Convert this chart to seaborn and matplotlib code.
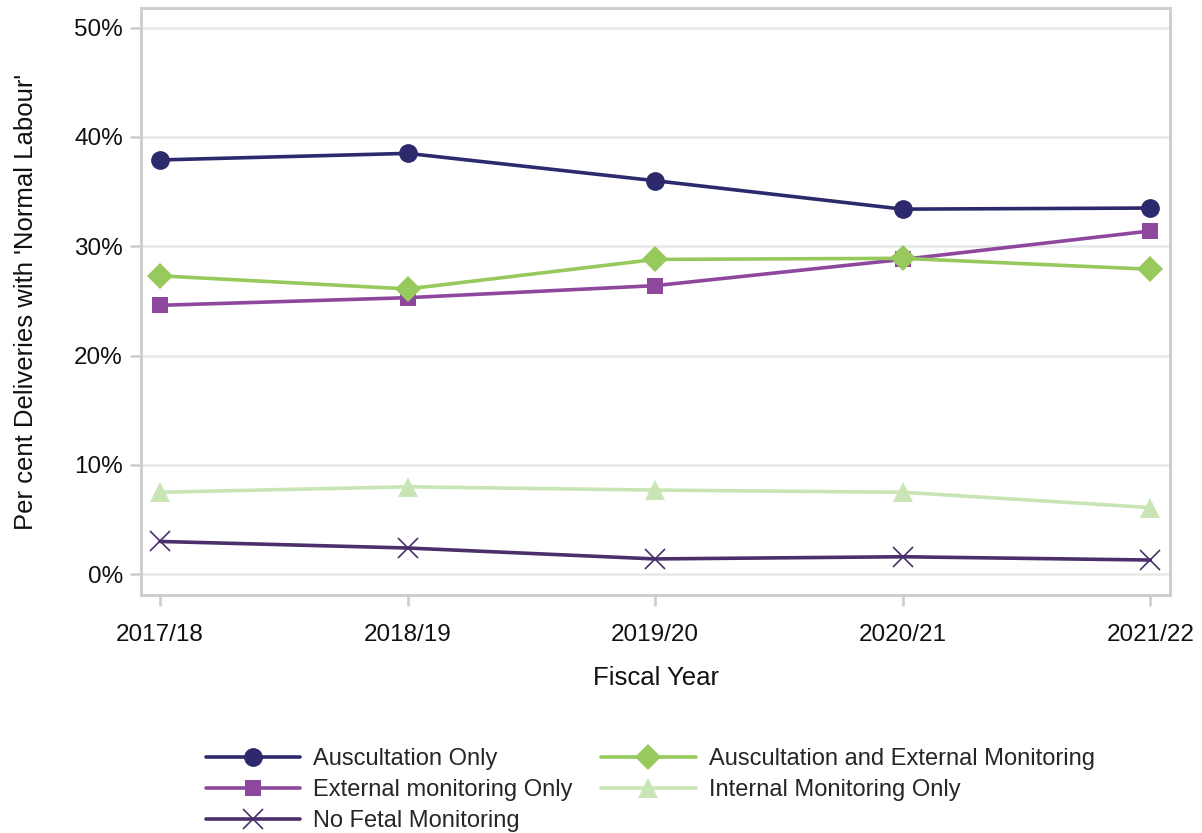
import matplotlib
matplotlib.use("Agg")
import matplotlib.pyplot as plt
import seaborn as sns
import pandas as pd
from matplotlib.ticker import FuncFormatter

years = ["2017/18", "2018/19", "2019/20", "2020/21", "2021/22"]
auscultation_only = [37.9, 38.5, 36.0, 33.4, 33.5]
external_only = [24.6, 25.3, 26.4, 28.8, 31.4]
ausc_and_external = [27.3, 26.1, 28.8, 28.9, 27.9]
internal_only = [7.5, 8.0, 7.7, 7.5, 6.1]
no_fetal = [3.0, 2.4, 1.4, 1.6, 1.3]

series_names = ["Auscultation Only", "External monitoring Only", "No Fetal Monitoring",
                "Auscultation and External Monitoring", "Internal Monitoring Only"]
series_vals = [auscultation_only, external_only, no_fetal, ausc_and_external, internal_only]
colors = ["#2C2A6C", "#8D489E", "#4A2F6B", "#97C95D", "#CAE5B5"]
markers = ["o", "s", "x", "D", "^"]
msizes = [13.5, 12, 15, 13, 14]

rows = []
for name, vals in zip(series_names, series_vals):
    for y, v in zip(years, vals):
        rows.append({"Fiscal Year": y, "value": v, "series": name})
df = pd.DataFrame(rows)

sns.set_theme(style="white")
plt.rcParams['font.family'] = ['Liberation Sans', 'DejaVu Sans']

fig = plt.figure(figsize=(12.02, 8.33), dpi=100)
ax = fig.add_axes([0.1173, 0.2857, 0.9734 - 0.1173, 0.9904 - 0.2857])

draw_order = [4, 3, 1, 2, 0]
for i in draw_order:
    sub = df[df["series"] == series_names[i]]
    sns.lineplot(data=sub, x="Fiscal Year", y="value", ax=ax, color=colors[i],
                 marker=markers[i], markersize=msizes[i], linewidth=2.6,
                 markeredgecolor=colors[i], markeredgewidth=1.2 if markers[i] == "x" else 0,
                 label=series_names[i], sort=False, zorder=3 + i)

ax.set_xlim(-0.077, 4.08)
ax.set_ylim(-1.9, 51.8)
ax.set_yticks([0, 10, 20, 30, 40, 50])
ax.yaxis.set_major_formatter(FuncFormatter(lambda v, p: f"{int(v)}%"))
ax.grid(axis="y", color="#E8E8E8", linewidth=1.8, zorder=0)
ax.grid(axis="x", visible=False)
for sp in ax.spines.values():
    sp.set_color("#CCCCCC")
    sp.set_linewidth(2)
ax.tick_params(axis="both", which="both", length=8, width=1.8, color="#CCCCCC",
               labelsize=17.5, labelcolor="#111111", pad=5, direction="out",
               bottom=True, left=True)
ax.tick_params(axis="x", pad=13)
ax.set_xlabel("Fiscal Year", fontsize=18.5, color="#111111", labelpad=14)
ax.set_ylabel("Per cent Deliveries with 'Normal Labour'", fontsize=18.5, color="#111111", labelpad=26)

handles, labels = ax.get_legend_handles_labels()
hmap = dict(zip(labels, handles))
if ax.legend_:
    ax.legend_.remove()
fig.legend([hmap[n] for n in series_names], series_names, loc="upper center",
           bbox_to_anchor=(0.541, 0.127), ncol=2, frameon=False, fontsize=17,
           handlelength=4.0, columnspacing=1.2, labelspacing=0.37, handletextpad=0.55)

fig.savefig("out.png", dpi=100)
